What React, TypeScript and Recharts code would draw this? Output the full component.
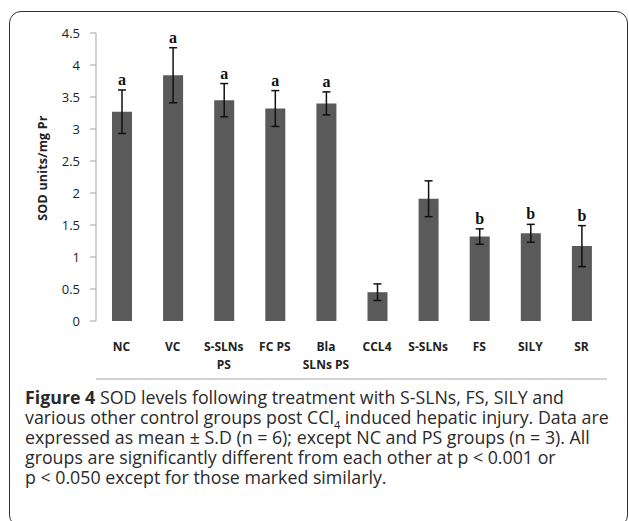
import React from 'react';
import { BarChart, Bar, XAxis, YAxis, ErrorBar, LabelList } from 'recharts';

const groups = ['NC', 'VC', 'S-SLNs PS', 'FC PS', 'Bla SLNs PS', 'CCL4', 'S-SLNs', 'FS', 'SILY', 'SR'];
const labelLines = [['NC'], ['VC'], ['S-SLNs', 'PS'], ['FC PS'], ['Bla', 'SLNs PS'], ['CCL4'], ['S-SLNs'], ['FS'], ['SILY'], ['SR']];
const sodMean = [3.27, 3.84, 3.45, 3.32, 3.40, 0.45, 1.91, 1.32, 1.37, 1.17];
const sodSd = [0.34, 0.43, 0.26, 0.28, 0.18, 0.13, 0.28, 0.12, 0.14, 0.32];
const letters = ['a', 'a', 'a', 'a', 'a', '', '', 'b', 'b', 'b'];
const yTicks = [0, 0.5, 1, 1.5, 2, 2.5, 3, 3.5, 4, 4.5];
const boundaryTicks = [0, 1, 2, 3, 4, 5, 6, 7, 8, 9, 10];

const data = groups.map((g, i) => ({ group: g, mean: sodMean[i], sd: sodSd[i], letter: letters[i] }));

const fmt = (v: number) => String(v);

// x labels, split into lines like the original
const GroupTick = ({ x, y, payload }: any) => {
  const lines = labelLines[payload.index] || [payload.value];
  return (
    <text x={x} y={y} textAnchor="middle" fill="#222" fontSize={12} fontWeight={700}
      fontFamily="'Open Sans', sans-serif">
      {lines.map((l: string, k: number) => (
        <tspan key={k} x={x} dy={k === 0 ? 22 : 18}>{l}</tspan>
      ))}
    </text>
  );
};

const YLabel = ({ viewBox }: any) => {
  const cx = viewBox.x + 32;
  const cy = viewBox.y + viewBox.height / 2 - 9;
  return (
    <text x={cx} y={cy} transform={`rotate(-90 ${cx} ${cy})`} textAnchor="middle" dominantBaseline="central"
      fill="#222" fontSize={12.5} fontWeight={700} letterSpacing={0.2} fontFamily="'Open Sans', sans-serif">
      SOD units/mg Pr
    </text>
  );
};

// significance letter just above the error bar
const LetterLabel = (props: any) => {
  const { x, y, width, height, index } = props;
  const item = data[index];
  if (!item || !item.letter) return null;
  const perUnit = height / item.mean;
  const top = y - item.sd * perUnit;
  return (
    <text x={x + width / 2} y={top - 5} textAnchor="middle" fill="#111" fontSize={16}
      fontWeight={700} fontFamily="'Liberation Serif', 'DejaVu Serif', serif">
      {item.letter}
    </text>
  );
};

export default function App() {
  return (
    <div style={{ position: 'absolute', left: 0, top: 0, width: 629, height: 521, background: '#fff', overflow: 'hidden' }}>
      <div style={{
        position: 'absolute', left: 9, top: 11, width: 617, height: 514,
        border: '1.5px solid #333', borderRadius: 12,
      }} />
      <div style={{ position: 'absolute', left: 0, top: 0 }}>
        <BarChart width={629} height={380} data={data}
          margin={{ top: 33, right: 22, bottom: 0, left: 10 }} barCategoryGap={0}>
          <XAxis xAxisId="grid" type="number" domain={[0, 10]} ticks={boundaryTicks}
            height={1} tick={false} tickSize={6} stroke="#a6a6a6" allowDataOverflow />
          <XAxis xAxisId="cat" dataKey="group" interval={0} axisLine={false} tickLine={false}
            tick={<GroupTick />} height={58} />
          <YAxis domain={[0, 4.5]} ticks={yTicks} tickFormatter={fmt} width={86} tickSize={6}
            tickMargin={10} stroke="#a6a6a6"
            tick={{ fill: '#222', fontSize: 13, fontFamily: "'Open Sans', sans-serif" }}
            label={<YLabel />} />
          <Bar xAxisId="cat" dataKey="mean" fill="#5a5a5a" barSize={20} isAnimationActive={false}>
            <ErrorBar dataKey="sd" width={4} stroke="#111" strokeWidth={1.5} direction="y" />
            <LabelList dataKey="mean" content={<LetterLabel />} />
          </Bar>
        </BarChart>
      </div>
      <div style={{
        position: 'absolute', left: 25, top: 387, whiteSpace: 'nowrap', color: '#2a2a2a',
        fontFamily: "'Open Sans', sans-serif",
        fontSize: 17.8, lineHeight: '20px',
      }}>
        <b>Figure 4</b> SOD levels following treatment with S-SLNs, FS, SILY and<br />
        various other control groups post CCl<sub style={{ fontSize: 11, lineHeight: 0 }}>4</sub> induced hepatic injury. Data are<br />
        expressed as mean ± S.D (n = 6); except NC and PS groups (n = 3). All<br />
        groups are significantly different from each other at p &lt; 0.001 or<br />
        p &lt; 0.050 except for those marked similarly.
      </div>
    </div>
  );
}
